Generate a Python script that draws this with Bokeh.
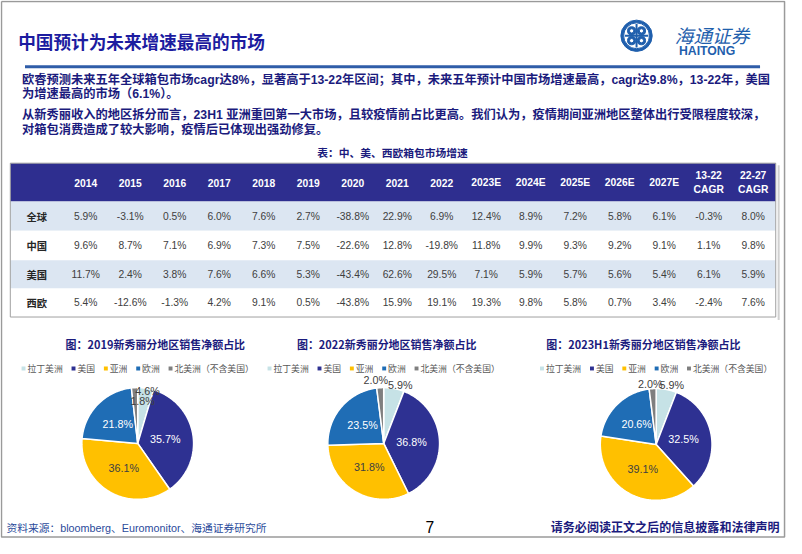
import math
from bokeh.plotting import figure
from bokeh.models import Range1d
from bokeh.core.properties import value
from bokeh.embed import file_html
from bokeh.resources import INLINE

# ---------------- data ----------------
title = "中国预计为未来增速最高的市场"
para1 = ["欧睿预测未来五年全球箱包市场cagr达8%，显著高于13-22年区间；其中，未来五年预计中国市场增速最高，cagr达9.8%，13-22年，美国",
         "为增速最高的市场（6.1%）。"]
para2 = ["从新秀丽收入的地区拆分而言，23H1 亚洲重回第一大市场，且较疫情前占比更高。我们认为，疫情期间亚洲地区整体出行受限程度较深，",
         "对箱包消费造成了较大影响，疫情后已体现出强劲修复。"]
table_caption = "表：中、美、西欧箱包市场增速"
columns = ["2014", "2015", "2016", "2017", "2018", "2019", "2020", "2021", "2022",
           "2023E", "2024E", "2025E", "2026E", "2027E", "13-22\nCAGR", "22-27\nCAGR"]
row_labels = ["全球", "中国", "美国", "西欧"]
global_growth = [5.9, -3.1, 0.5, 6.0, 7.6, 2.7, -38.8, 22.9, 6.9, 12.4, 8.9, 7.2, 5.8, 6.1, -0.3, 8.0]
china_growth = [9.6, 8.7, 7.1, 6.9, 7.3, 7.5, -22.6, 12.8, -19.8, 11.8, 9.9, 9.3, 9.2, 9.1, 1.1, 9.8]
us_growth = [11.7, 2.4, 3.8, 7.6, 6.6, 5.3, -43.4, 62.6, 29.5, 7.1, 5.9, 5.7, 5.6, 5.4, 6.1, 5.9]
weu_growth = [5.4, -12.6, -1.3, 4.2, 9.1, 0.5, -43.8, 15.9, 19.1, 19.3, 9.8, 5.8, 0.7, 3.4, -2.4, 7.6]

regions = ["拉丁美洲", "美国", "亚洲", "欧洲", "北美洲（不含美国）"]
pie_titles = ["图：2019新秀丽分地区销售净额占比", "图：2022新秀丽分地区销售净额占比", "图：2023H1新秀丽分地区销售净额占比"]
share_2019 = [4.6, 35.7, 36.1, 21.8, 1.8]
share_2022 = [5.9, 36.8, 31.8, 23.5, 2.0]
share_2023h1 = [5.9, 32.5, 39.1, 20.6, 2.0]

source_note = "资料来源：bloomberg、Euromonitor、海通证券研究所"
page_no = "7"
disclaimer = "请务必阅读正文之后的信息披露和法律声明"

# ---------------- styles ----------------
W, H = 786, 538
XR, YR = 802, 549
S = W / XR
CJK = "Noto Sans CJK SC"
ARIAL = "Liberation Sans"
MIX = "Liberation Sans, Noto Sans CJK SC"
NAVY_TXT = "#1B1B7D"
TITLE_C = "#1C1CA0"
HEAD_BG = "#2E2E8F"
ROW_BG = "#DCE6F2"
CELL_C = "#404040"
slice_colors = ["#C6E2E6", "#2E3192", "#FFC000", "#1F6DB5", "#7F7F7F"]
slice_text = ["#404040", "white", "#404040", "white", "#404040"]

p = figure(width=W, height=H, x_range=Range1d(0, XR), y_range=Range1d(YR, 0),
           output_backend="svg", toolbar_location=None, min_border=0,
           x_axis_location=None, y_axis_location=None)
p.grid.visible = False
p.outline_line_color = None
p.background_fill_color = "white"


def txt(x, y, s, size, color, font=CJK, style="normal", align="left", baseline="middle"):
    p.text(x=[x], y=[y], text=[s], text_font=value(font), text_font_size=f"{size * S:.2f}px",
           text_color=color, text_font_style=style, text_align=align, text_baseline=baseline)


# slide frame
p.line([1, 800, 800, 1, 1], [1, 1, 547.5, 547.5, 1], line_color="#9A9A9A", line_width=1.5)

# title + logo
txt(18, 42, title, 18, TITLE_C, style="bold")
LOGO = "#1F5FAD"
p.annulus(x=[649], y=[36], inner_radius=13.2, outer_radius=16, color=LOGO)
for dx, dy in [(-5, -5), (5, -5), (-5, 5), (5, 5)]:
    p.annulus(x=[649 + dx], y=[36 + dy], inner_radius=2.2, outer_radius=4.2, color=LOGO)
p.line([649, 649], [24, 48], line_color=LOGO, line_width=2)
p.line([637, 661], [36, 36], line_color=LOGO, line_width=2)
txt(726, 35, "海通证券", 19, LOGO, style="italic", align="center")
txt(721, 52, "HAITONG", 12.5, LOGO, font=ARIAL, style="bold", align="center")
p.line([25, 775], [67.5, 67.5], line_color="#2F5DA8", line_width=3)

# paragraphs
for yy, line in zip([81, 95.5], para1):
    txt(22, yy, line, 12.5, NAVY_TXT, font=MIX, style="bold")
for yy, line in zip([117, 132], para2):
    txt(22, yy, line, 12.5, NAVY_TXT, font=MIX, style="bold")

# table
txt(400, 155, table_caption, 11, NAVY_TXT, style="bold", align="center")
tx0, tx1 = 10, 791
head_top, head_bot = 166, 205
row_edges = [205, 235, 265, 294, 323]
col_x = [87 + i * 45.4 for i in range(len(columns))]
p.quad(left=[tx0], right=[tx1], top=[head_top], bottom=[head_bot], fill_color=HEAD_BG, line_color=None)
for i in range(4):
    p.quad(left=[tx0], right=[tx1], top=[row_edges[i]], bottom=[row_edges[i + 1]],
           fill_color=ROW_BG if i % 2 == 0 else "white", line_color=None)
p.line([tx0, tx1, tx1, tx0, tx0], [head_top, head_top, 323, 323, head_top], line_color="#A0A0A0", line_width=1)
p.line([tx1 + 3, tx1 + 3], [168, 326], line_color="#D0D0D0", line_width=2)

for cx, name in zip(col_x, columns):
    parts = name.split("\n")
    if len(parts) == 1:
        txt(cx, 186, parts[0], 10.5, "white", font=ARIAL, style="bold", align="center")
    else:
        txt(cx, 178.5, parts[0], 10.5, "white", font=ARIAL, style="bold", align="center")
        txt(cx, 193, parts[1], 10.5, "white", font=ARIAL, style="bold", align="center")

all_rows = [global_growth, china_growth, us_growth, weu_growth]
for i, (lab, vals) in enumerate(zip(row_labels, all_rows)):
    cy = (row_edges[i] + row_edges[i + 1]) / 2
    txt(37, cy, lab, 10.5, "#262626", style="bold", align="center")
    p.text(x=col_x, y=[cy] * len(vals), text=[f"{v:.1f}%" for v in vals],
           text_font=value(ARIAL), text_font_size=f"{10.5 * S:.2f}px", text_color=CELL_C,
           text_align="center", text_baseline="middle")

# pies
pies = [
    dict(cx=140, cy=452, tcx=158, vals=share_2019, title=pie_titles[0],
         small={0: (0.96, 10.5), 4: (0.77, 6.6)}),
    dict(cx=391, cy=452, tcx=394, vals=share_2022, title=pie_titles[1],
         small={0: (1.08, 16.0), 4: (1.15, -7.0)}),
    dict(cx=669, cy=453, tcx=656, vals=share_2023h1, title=pie_titles[2],
         small={0: (1.10, 14.7), 4: (1.08, -5.6)}),
]
R = 57
for pie in pies:
    cx, cy, vals = pie["cx"], pie["cy"], pie["vals"]
    total = sum(vals)
    txt(pie["tcx"], 350.5, pie["title"], 11.2, NAVY_TXT, style="bold", align="center")
    # legend
    widths = [4 + 2 + len(n) * 9 + 9 for n in regions]
    lx = cx - (sum(widths) - 9) / 2
    for n, c, w in zip(regions, slice_colors, widths):
        p.rect(x=[lx + 2], y=[375.5], width=4, height=4, fill_color=c, line_color=None)
        txt(lx + 6, 375.5, n, 9, "#595959")
        lx += w
    # slices
    xs, ys = [], []
    cum = 0.0
    mids = []
    for v in vals:
        a0 = 2 * math.pi * cum / total
        a1 = 2 * math.pi * (cum + v) / total
        n = max(4, int(abs(a1 - a0) / 0.02))
        px_, py_ = [cx], [cy]
        for k in range(n + 1):
            a = a0 + (a1 - a0) * k / n
            px_.append(cx + R * math.sin(a))
            py_.append(cy - R * math.cos(a))
        xs.append(px_)
        ys.append(py_)
        mids.append((a0 + a1) / 2)
        cum += v
    p.patches(xs=xs, ys=ys, fill_color=slice_colors, line_color="white", line_width=1.5)
    # labels
    for i, (v, m) in enumerate(zip(vals, mids)):
        if i in pie["small"]:
            k, ang = pie["small"][i]
            a = math.radians(ang)
            col = "#404040"
        else:
            k, a = 0.5, m
            col = slice_text[i]
        txt(cx + k * R * math.sin(a), cy - k * R * math.cos(a), f"{v:.1f}%", 11, col,
            font=ARIAL, align="center")

# footer
txt(6, 538, source_note, 11, "#2B4B9B", font=MIX)
txt(438, 537, page_no, 16, "black", font=ARIAL, align="center")
txt(795, 537, disclaimer, 12.3, NAVY_TXT, style="bold", align="right")

open("out.html", "w").write(file_html(p, INLINE))
